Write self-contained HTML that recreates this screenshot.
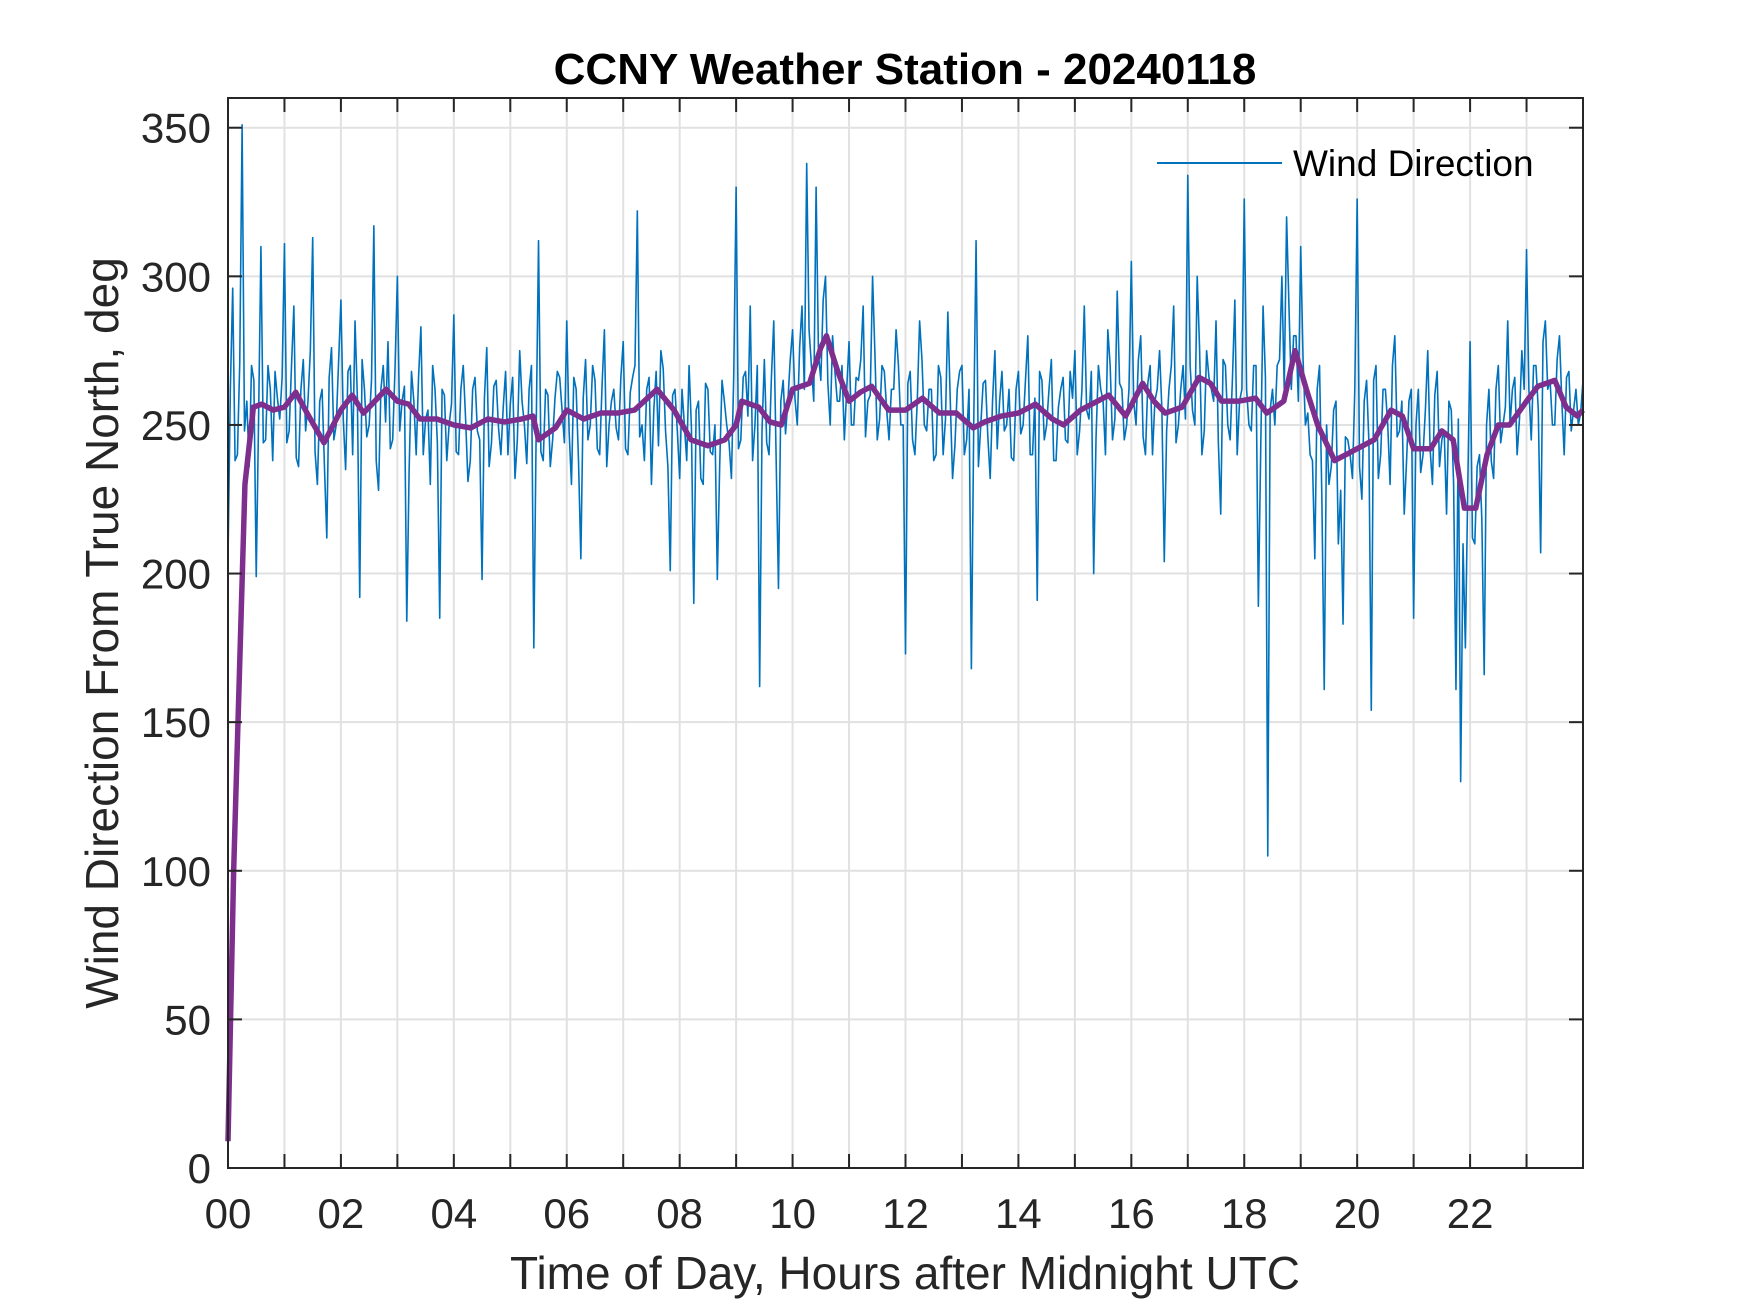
<!DOCTYPE html>
<html><head><meta charset="utf-8"><style>
html,body{margin:0;padding:0;background:#fff}
svg{display:block}
text{font-family:"Liberation Sans",Arial,sans-serif}
</style></head><body>
<svg id="chart" width="1750" height="1313" viewBox="0 0 1750 1313">
<rect width="1750" height="1313" fill="#fff"/>
<g id="grid"></g>
<g id="series"></g>
<g id="axes"></g>
<text x="905" y="84" text-anchor="middle" font-size="44" font-weight="bold" fill="#000">CCNY Weather Station - 20240118</text>
<text x="905" y="1289" text-anchor="middle" font-size="46" fill="#262626">Time of Day, Hours after Midnight UTC</text>
<text transform="translate(118,633) rotate(-90)" text-anchor="middle" font-size="46" fill="#262626">Wind Direction From True North, deg</text>
<g>
<line x1="1157" y1="163" x2="1282" y2="163" stroke="#0072BD" stroke-width="2"/>
<text x="1293" y="176" font-size="37" fill="#000">Wind Direction</text>
</g>
</svg>
<script>
const windValues = [
205,296,240,351,258,270,199,310,245,262,268,252,
311,248,290,236,272,258,313,230,262,212,276,250,
292,235,270,285,192,262,250,317,228,270,278,245,
300,258,184,268,240,283,252,230,262,185,260,250,
287,240,270,231,262,248,198,276,244,265,240,268,
257,232,275,250,262,175,312,238,260,245,268,255,
285,230,262,205,272,250,265,240,282,250,262,245,
278,240,266,322,250,262,230,268,275,248,201,262,
232,250,270,190,258,230,262,240,198,265,250,232,
330,245,268,290,250,162,272,240,285,195,265,258,
282,250,290,338,270,330,265,300,250,268,258,245,
278,250,265,290,258,300,245,270,255,262,282,250,
173,268,240,285,250,262,238,270,240,288,232,262,
270,245,168,312,250,265,232,275,258,248,262,238,
268,250,280,240,191,265,250,272,238,262,245,268,
275,248,290,252,200,270,258,282,245,295,262,250,
305,250,280,240,270,258,275,204,262,290,250,270,
334,255,300,240,275,262,285,220,270,245,292,258,
326,250,270,189,290,105,262,270,300,320,262,280,
310,250,240,205,270,161,230,255,210,183,245,232,
326,225,265,154,270,240,262,230,280,248,220,258,
185,262,240,275,230,268,245,220,255,161,130,175,
278,210,240,166,262,232,270,250,285,262,240,275,
309,245,270,207,285,265,250,280,240,268,255,250,
265];
const windValuesMid = [
262,238,271,248,236,265,252,244,270,238,259,266,
244,270,239,262,248,275,241,258,236,266,245,271,
252,268,240,259,272,246,265,238,262,251,242,269,
248,263,235,258,266,240,255,270,244,262,238,257,
241,262,252,238,266,245,259,236,263,249,256,240,
266,245,258,237,270,248,241,262,236,259,266,244,
248,266,238,259,245,270,242,263,236,258,249,266,
242,261,270,246,238,266,255,243,269,236,260,248,
262,238,249,255,232,264,241,250,236,258,244,267,
242,266,253,238,270,248,244,266,239,258,247,272,
259,276,262,282,258,274,292,264,280,258,270,262,
250,266,272,246,260,274,252,268,245,262,270,250,
264,245,258,272,248,262,240,266,252,259,243,268,
240,262,250,236,264,246,258,242,268,250,239,262,
247,265,240,259,268,245,262,238,256,266,244,259,
240,262,255,268,246,262,240,270,252,264,245,262,
258,272,246,264,240,262,255,248,270,244,262,252,
270,250,276,248,266,258,244,272,250,266,240,262,
262,248,270,242,266,255,250,272,262,290,280,258,
272,254,238,262,225,250,236,258,228,246,240,262,
236,258,244,265,232,262,250,270,246,258,238,262,
250,234,255,242,260,236,248,258,230,252,210,228,
212,236,218,250,238,262,244,256,250,266,252,262,
262,270,255,278,262,250,272,258,266,248,262,254];
const windStepHours = 5/60;
const avgHours = [0,0.1,0.3,0.45,0.6,0.8,1.0,1.2,1.4,1.7,2.0,2.2,2.4,2.6,2.8,3.0,3.2,3.4,3.7,4.0,4.3,4.6,4.9,5.2,5.4,5.5,5.8,6.0,6.3,6.6,6.9,7.2,7.6,7.9,8.2,8.5,8.8,9.0,9.1,9.4,9.6,9.8,10.0,10.3,10.5,10.6,10.8,11.0,11.2,11.4,11.7,12.0,12.3,12.6,12.9,13.2,13.4,13.7,14.0,14.3,14.6,14.8,15.1,15.4,15.6,15.9,16.2,16.4,16.6,16.9,17.2,17.4,17.6,17.9,18.2,18.4,18.7,18.9,19.1,19.3,19.6,19.8,20.0,20.3,20.6,20.8,21.0,21.3,21.5,21.7,21.9,22.1,22.3,22.5,22.7,23.0,23.2,23.5,23.7,23.9,24.0];
const avgValues = [9,100,230,256,257,255,256,261,254,244,255,260,254,258,262,258,257,252,252,250,249,252,251,252,253,245,249,255,252,254,254,255,262,255,245,243,245,250,258,256,251,250,262,264,276,280,268,258,261,263,255,255,259,254,254,249,251,253,254,257,252,250,255,258,260,253,264,258,254,256,266,264,258,258,259,254,258,275,262,250,238,240,242,245,255,253,242,242,248,245,222,222,240,250,250,258,263,265,256,253,255];
const yTicks = [0,50,100,150,200,250,300,350];
const xTickLabels = ["00","02","04","06","08","10","12","14","16","18","20","22"];

const L=228,R=1583,T=98,B=1168,XMAX=24,YMAX=360;
const xs=h=>L+(R-L)*h/XMAX;
const ys=v=>B-(B-T)*v/YMAX;
const NS="http://www.w3.org/2000/svg";
function mk(tag,parent){const e=document.createElementNS(NS,tag);parent.appendChild(e);return e;}
const grid=document.getElementById('grid'),series=document.getElementById('series'),axes=document.getElementById('axes');

for(let h=1;h<24;h++){
  const l=mk('line',grid);
  
  
  l.setAttribute('x1',xs(h));l.setAttribute('x2',xs(h));l.setAttribute('y1',T);l.setAttribute('y2',B);
  l.setAttribute('stroke','#e1e1e1');l.setAttribute('stroke-width','2');
}
yTicks.forEach(v=>{
  if(v===0)return;
  const l=mk('line',grid);
  
  
  l.setAttribute('x1',L);l.setAttribute('x2',R);l.setAttribute('y1',ys(v));l.setAttribute('y2',ys(v));
  l.setAttribute('stroke','#e1e1e1');l.setAttribute('stroke-width','2');
});

// interleave main samples with the mid-interval samples
let d='';
windValues.forEach((v,i)=>{
  d+=(i?'L':'M')+xs(i*windStepHours).toFixed(2)+','+ys(v).toFixed(2);
  if(i<windValuesMid.length){d+='L'+xs((i+0.5)*windStepHours).toFixed(2)+','+ys(windValuesMid[i]).toFixed(2);}
});
const wl=mk('path',series);


wl.setAttribute('d',d);wl.setAttribute('fill','none');wl.setAttribute('stroke','#0072BD');wl.setAttribute('stroke-width','1.6');wl.setAttribute('stroke-linejoin','round');

let d2='';
avgHours.forEach((h,i)=>{d2+=(i?'L':'M')+xs(h).toFixed(2)+','+ys(avgValues[i]).toFixed(2);});
const al=mk('path',series);


al.setAttribute('d',d2);al.setAttribute('fill','none');al.setAttribute('stroke','#7E2F8E');al.setAttribute('stroke-width','5.5');al.setAttribute('stroke-linejoin','round');

const box=mk('rect',axes);


box.setAttribute('x',L);box.setAttribute('y',T);box.setAttribute('width',R-L);box.setAttribute('height',B-T);
box.setAttribute('fill','none');box.setAttribute('stroke','#262626');box.setAttribute('stroke-width','2');

for(let h=1;h<24;h++){
  [[B,B-14],[T,T+14]].forEach(p=>{
    const t=mk('line',axes);
    
    
    t.setAttribute('x1',xs(h));t.setAttribute('x2',xs(h));t.setAttribute('y1',p[0]);t.setAttribute('y2',p[1]);
    t.setAttribute('stroke','#262626');t.setAttribute('stroke-width','2');
  });
}
xTickLabels.forEach((s,i)=>{
  const t=mk('text',axes);
  
  
  t.setAttribute('x',xs(i*2));t.setAttribute('y',1228);t.setAttribute('text-anchor','middle');
  t.setAttribute('font-size','42');t.setAttribute('fill','#262626');t.textContent=s;
});
yTicks.forEach(v=>{
  [[L,L+14],[R,R-14]].forEach(p=>{
    const t=mk('line',axes);
    
    
    t.setAttribute('x1',p[0]);t.setAttribute('x2',p[1]);t.setAttribute('y1',ys(v));t.setAttribute('y2',ys(v));
    t.setAttribute('stroke','#262626');t.setAttribute('stroke-width','2');
  });
  const t=mk('text',axes);
  
  
  t.setAttribute('x',211);t.setAttribute('y',ys(v)+15);t.setAttribute('text-anchor','end');
  t.setAttribute('font-size','42');t.setAttribute('fill','#262626');t.textContent=String(v);
});
</script>
</body></html>
